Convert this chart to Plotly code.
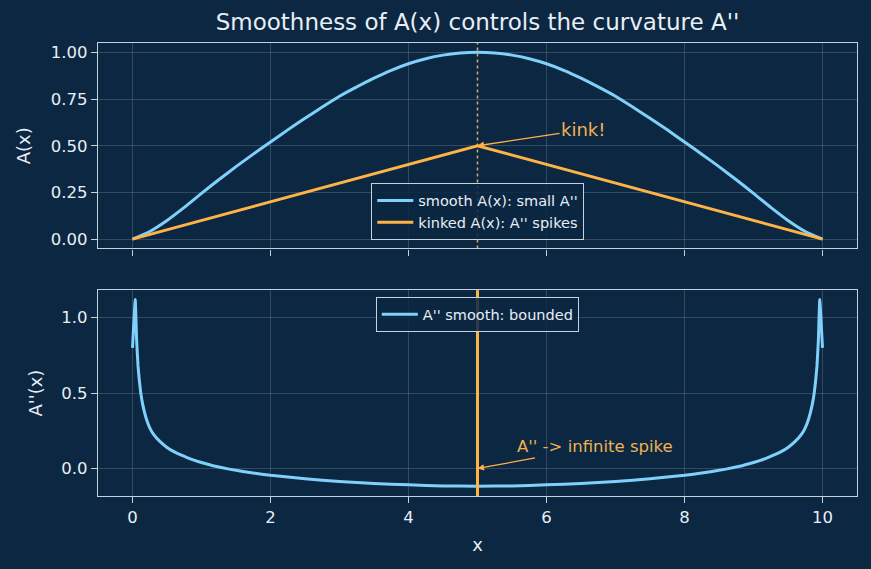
import plotly.graph_objects as go

# ---------------- data ----------------
x_smooth = [0, 0.25, 0.5, 0.75, 1.0, 1.25, 1.5, 1.75, 2.0, 2.25, 2.5, 2.75, 3.0, 3.25, 3.5, 3.75, 4.0, 4.25, 4.5, 4.75, 5.0,
            5.25, 5.5, 5.75, 6.0, 6.25, 6.5, 6.75, 7.0, 7.25, 7.5, 7.75, 8.0, 8.25, 8.5, 8.75, 9.0, 9.25, 9.5, 9.75, 10.0]
a_smooth = [0, 0.041, 0.100, 0.170, 0.245, 0.318, 0.388, 0.455, 0.520, 0.585, 0.647, 0.707, 0.765, 0.815, 0.862, 0.904, 0.939, 0.966, 0.985, 0.996, 1.0,
            0.996, 0.985, 0.966, 0.939, 0.904, 0.862, 0.815, 0.765, 0.707, 0.647, 0.585, 0.520, 0.455, 0.388, 0.318, 0.245, 0.170, 0.100, 0.041, 0]

x_kink = [0, 5, 10]
a_kink = [0, 0.5, 0]

x_dd = [0, 0.04, 0.06, 0.08, 0.1, 0.12, 0.15, 0.2, 0.25, 0.3, 0.4, 0.5, 0.6, 0.7, 0.8, 0.9, 1.0, 1.2, 1.4, 1.6, 1.8, 2.0,
        2.5, 3.0, 3.5, 4.0, 4.5, 5.0, 5.5, 6.0, 6.5, 7.0, 7.5,
        8.0, 8.2, 8.4, 8.6, 8.8, 9.0, 9.1, 9.2, 9.3, 9.4, 9.5, 9.6, 9.7, 9.75, 9.8, 9.85, 9.88, 9.9, 9.92, 9.94, 9.96, 10.0]
a_dd = [0.80, 1.12, 0.85, 0.68, 0.58, 0.50, 0.42, 0.33, 0.27, 0.23, 0.178, 0.14, 0.112, 0.09, 0.071, 0.054, 0.04, 0.015, -0.004, -0.019, -0.033, -0.045,
        -0.068, -0.086, -0.099, -0.108, -0.115, -0.117, -0.115, -0.108, -0.099, -0.086, -0.068,
        -0.045, -0.033, -0.019, -0.004, 0.015, 0.04, 0.054, 0.071, 0.09, 0.112, 0.14, 0.178, 0.23, 0.27, 0.33, 0.42, 0.50, 0.58, 0.68, 0.85, 1.12, 0.80]

kink_x = 5.0
title_text = "Smoothness of A(x) controls the curvature A''"

# ---------------- style ----------------
BG = "#0c2741"
FG = "#e8eef5"
SPINE = "#c5d3e0"
GRID = "rgba(255,255,255,0.16)"
BLUE = "#7fd0fb"
ORANGE = "#ffb347"
FONT = "DejaVu Sans"

fig = go.Figure()

fig.add_trace(go.Scatter(x=x_smooth, y=a_smooth, mode="lines", name="smooth A(x): small A''",
                         line=dict(color=BLUE, width=3, shape="spline", smoothing=0.6),
                         xaxis="x", yaxis="y", legend="legend"))
fig.add_trace(go.Scatter(x=x_kink, y=a_kink, mode="lines", name="kinked A(x): A'' spikes",
                         line=dict(color=ORANGE, width=3),
                         xaxis="x", yaxis="y", legend="legend"))
fig.add_trace(go.Scatter(x=x_dd, y=a_dd, mode="lines", name="A'' smooth: bounded",
                         line=dict(color=BLUE, width=3, shape="spline", smoothing=0.3),
                         xaxis="x2", yaxis="y2", legend="legend2"))

# vertical markers
fig.add_shape(type="line", x0=kink_x, x1=kink_x, y0=0, y1=1, xref="x", yref="y domain",
              line=dict(color="rgba(255,195,110,0.85)", width=1.5, dash="dot"))
fig.add_shape(type="line", x0=kink_x, x1=kink_x, y0=0, y1=1, xref="x2", yref="y2 domain",
              line=dict(color=ORANGE, width=3))

# annotations
fig.add_annotation(x=kink_x, y=0.5, xref="x", yref="y", ax=6.53, ay=0.585, axref="x", ayref="y",
                   text="kink!", showarrow=True, arrowhead=2, arrowsize=1, arrowwidth=1.3,
                   arrowcolor=ORANGE, font=dict(family=FONT, size=18, color="#efb153"))
fig.add_annotation(x=kink_x, y=0.0, xref="x2", yref="y2", ax=6.70, ay=0.143, axref="x2", ayref="y2",
                   text="A'' -> infinite spike", showarrow=True, arrowhead=2, arrowsize=1, arrowwidth=1.3,
                   arrowcolor=ORANGE, font=dict(family=FONT, size=16.5, color="#efb153"))

axis_common = dict(showline=True, mirror=True, linecolor=SPINE, linewidth=1.3,
                   ticks="outside", ticklen=6, tickwidth=1.2, tickcolor=SPINE,
                   showgrid=True, gridcolor=GRID, gridwidth=1, zeroline=False,
                   tickfont=dict(family=FONT, size=16.5, color=FG))

fig.update_layout(
    width=871, height=569,
    paper_bgcolor=BG, plot_bgcolor=BG,
    margin=dict(l=98, r=14, t=43, b=73),
    font=dict(family=FONT, color=FG),
    title=dict(text=title_text, x=0.5, xref="paper", xanchor="center",
               y=1 - 22 / 569, yref="container", yanchor="middle",
               font=dict(family=FONT, size=23, color=FG)),
    xaxis=dict(domain=[0, 1], range=[-0.5, 10.5], anchor="y", tickvals=[0, 2, 4, 6, 8, 10],
               showticklabels=False, matches="x2", **axis_common),
    yaxis=dict(domain=[0.5464, 1], range=[-0.05, 1.05], anchor="x",
               tickvals=[0, 0.25, 0.5, 0.75, 1.0], tickformat=".2f",
               title=dict(text="A(x)", standoff=15, font=dict(family=FONT, size=18, color=FG)),
               **axis_common),
    xaxis2=dict(domain=[0, 1], range=[-0.5, 10.5], anchor="y2", tickvals=[0, 2, 4, 6, 8, 10],
                title=dict(text="x", standoff=12, font=dict(family=FONT, size=18, color=FG)),
                **axis_common),
    yaxis2=dict(domain=[0, 0.4544], range=[-0.182, 1.182], anchor="x2",
                tickvals=[0, 0.5, 1.0], tickformat=".1f",
                title=dict(text="A''(x)", standoff=13, font=dict(family=FONT, size=18, color=FG)),
                **axis_common),
    legend=dict(x=0.5, xanchor="center", y=0.5647, yanchor="bottom", xref="paper", yref="paper",
                bgcolor="rgba(12,39,65,0.85)", bordercolor=SPINE, borderwidth=1.3,
                font=dict(family=FONT, size=14.5, color=FG), tracegroupgap=0, itemwidth=36),
    legend2=dict(x=0.5, xanchor="center", y=0.439, yanchor="top", xref="paper", yref="paper",
                 bgcolor="rgba(12,39,65,0.85)", bordercolor=SPINE, borderwidth=1.3,
                 font=dict(family=FONT, size=14.5, color=FG), itemwidth=36),
    showlegend=True,
)

fig.write_html("out.html")
